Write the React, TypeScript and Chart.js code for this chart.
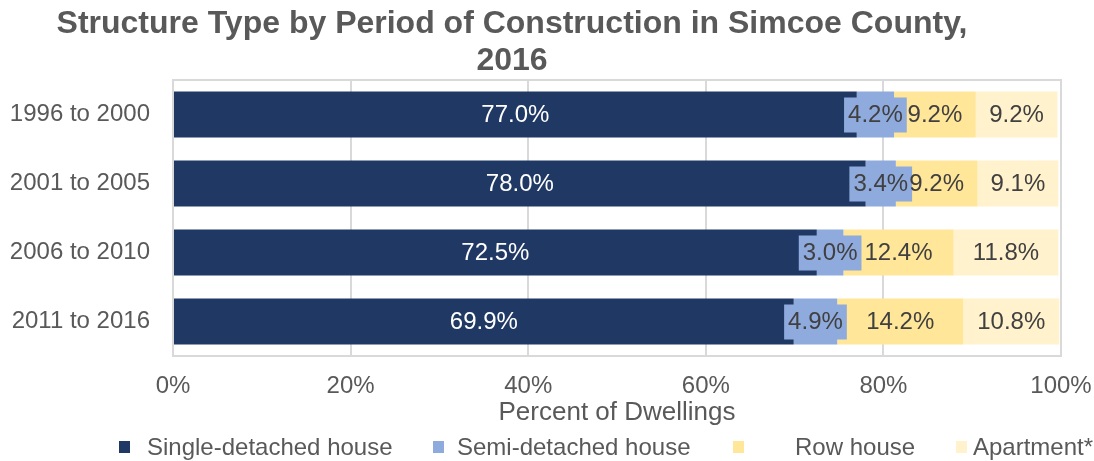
import React, { useEffect, useRef } from "react";
import { Chart, registerables } from "chart.js";

Chart.register(...registerables);

const periods = ["1996 to 2000", "2001 to 2005", "2006 to 2010", "2011 to 2016"];
const seriesNames = ["Single-detached house", "Semi-detached house", "Row house", "Apartment*"];
const singleDetached = [77.0, 78.0, 72.5, 69.9];
const semiDetached = [4.2, 3.4, 3.0, 4.9];
const rowHouse = [9.2, 9.2, 12.4, 14.2];
const apartment = [9.2, 9.1, 11.8, 10.8];
const xTicks = [0, 20, 40, 60, 80, 100];
const titleLines = ["Structure Type by Period of Construction in Simcoe County,", "2016"];
const axisTitle = "Percent of Dwellings";

const COLORS = ["#203864", "#8FAADC", "#FFE699", "#FFF2CC"];
const FONT = "'Liberation Sans', Arial, sans-serif";
const GRID = "#D9D9D9";
const TEXT = "#595959";

const legendX = [119, 433, 733, 956];
const legendTextX = [147, 457, 795, 973];

export default function App() {
  const ref = useRef<HTMLCanvasElement | null>(null);

  useEffect(() => {
    if (!ref.current) return;

    const titlePlugin = {
      id: "customTitle",
      afterDraw(chart: any) {
        const ctx = chart.ctx;
        ctx.save();
        ctx.fillStyle = TEXT;
        ctx.font = `bold 32px ${FONT}`;
        ctx.textAlign = "center";
        ctx.textBaseline = "middle";
        ctx.fillText(titleLines[0], 512, 24);
        ctx.fillText(titleLines[1], 512, 61);
        ctx.restore();
      },
    };

    const borderPlugin = {
      id: "plotBorder",
      beforeDatasetsDraw(chart: any) {
        const { ctx, chartArea } = chart;
        ctx.save();
        ctx.strokeStyle = GRID;
        ctx.lineWidth = 2;
        ctx.strokeRect(chartArea.left, chartArea.top, chartArea.right - chartArea.left, chartArea.bottom - chartArea.top);
        ctx.restore();
      },
    };

    const labelPlugin = {
      id: "segLabels",
      afterDatasetsDraw(chart: any) {
        const ctx = chart.ctx;
        ctx.save();
        ctx.font = `24px ${FONT}`;
        ctx.textAlign = "center";
        ctx.textBaseline = "middle";
        chart.data.datasets.forEach((ds: any, di: number) => {
          const meta = chart.getDatasetMeta(di);
          meta.data.forEach((el: any, i: number) => {
            const v = ds.data[i];
            const txt = v.toFixed(1) + "%";
            const cx = (el.x + el.base) / 2;
            const cy = el.y;
            if (di === 1) {
              const w = ctx.measureText(txt).width + 8;
              ctx.fillStyle = COLORS[1];
              ctx.fillRect(cx - w / 2, cy - 17, w, 35);
            }
            ctx.fillStyle = di === 0 ? "#FFFFFF" : "#404040";
            ctx.fillText(txt, cx, cy + 1);
          });
        });
        ctx.restore();
      },
    };

    const legendPlugin = {
      id: "customLegend",
      afterDraw(chart: any) {
        const ctx = chart.ctx;
        ctx.save();
        ctx.font = `24px ${FONT}`;
        ctx.textBaseline = "middle";
        ctx.textAlign = "left";
        seriesNames.forEach((name, i) => {
          ctx.fillStyle = COLORS[i];
          ctx.fillRect(legendX[i], 441, 11, 12);
          ctx.fillStyle = TEXT;
          ctx.fillText(name, legendTextX[i], 448);
        });
        ctx.restore();
      },
    };

    const chart = new Chart(ref.current, {
      type: "bar",
      data: {
        labels: periods,
        datasets: [
          { label: seriesNames[0], data: singleDetached, backgroundColor: COLORS[0] },
          { label: seriesNames[1], data: semiDetached, backgroundColor: COLORS[1] },
          { label: seriesNames[2], data: rowHouse, backgroundColor: COLORS[2] },
          { label: seriesNames[3], data: apartment, backgroundColor: COLORS[3] },
        ],
      },
      options: {
        indexAxis: "y",
        responsive: false,
        animation: false,
        layout: { padding: { top: 80, right: 33, bottom: 33, left: 0 } },
        datasets: { bar: { categoryPercentage: 1, barPercentage: 0.667, borderWidth: 0 } },
        plugins: { legend: { display: false }, title: { display: false }, tooltip: { enabled: false } },
        scales: {
          x: {
            stacked: true,
            min: 0,
            max: 100,
            afterBuildTicks: (scale: any) => {
              scale.ticks = xTicks.map((v) => ({ value: v }));
            },
            afterFit: (scale: any) => {
              scale.height = 72;
              scale.paddingLeft = 0;
              scale.paddingRight = 0;
            },
            grid: { color: GRID, lineWidth: 2, drawTicks: false },
            border: { display: true, color: GRID, width: 2 },
            ticks: {
              padding: 16,
              color: TEXT,
              font: { family: FONT, size: 24 },
              callback: (v: any) => v + "%",
            },
            title: {
              display: true,
              text: axisTitle,
              color: TEXT,
              font: { family: FONT, size: 26 },
              padding: 0,
            },
          },
          y: {
            stacked: true,
            afterFit: (scale: any) => {
              scale.width = 173;
              scale.paddingTop = 0;
              scale.paddingBottom = 0;
            },
            grid: { display: false, drawTicks: false },
            border: { display: false },
            ticks: {
              padding: 23,
              color: TEXT,
              font: { family: FONT, size: 24 },
            },
          },
        },
      },
      plugins: [borderPlugin, labelPlugin, titlePlugin, legendPlugin],
    } as any);

    return () => chart.destroy();
  }, []);

  return (
    <div style={{ position: "fixed", left: 0, top: 0, width: 1094, height: 461, background: "#fff" }}>
      <canvas ref={ref} width={1094} height={461} style={{ display: "block" }} />
    </div>
  );
}
